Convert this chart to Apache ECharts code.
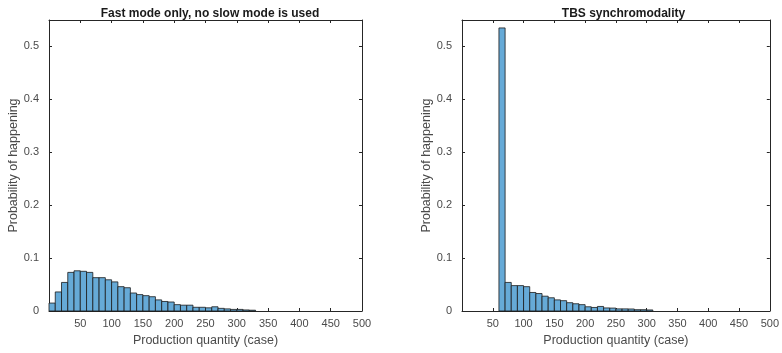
<!DOCTYPE html>
<html>
<head>
<meta charset="utf-8">
<script src="https://cdn.jsdelivr.net/npm/echarts@6/dist/echarts.min.js"></script>
<style>
  html, body { margin: 0; padding: 0; background: #fff; }
  #chart { width: 782px; height: 353px; }
</style>
</head>
<body>
<div id="chart"></div>
<script>
// Histogram bin width (cases)
const binWidth = 10;

// Fast mode only: bins start at 0
const fastBinStarts = [0, 10, 20, 30, 40, 50, 60, 70, 80, 90, 100, 110, 120, 130, 140, 150, 160,
  170, 180, 190, 200, 210, 220, 230, 240, 250, 260, 270, 280, 290, 300, 310, 320];
const fastProb = [0.015, 0.036, 0.054, 0.073, 0.076, 0.075, 0.073, 0.063, 0.063, 0.059, 0.055,
  0.046, 0.044, 0.034, 0.031, 0.029, 0.027, 0.021, 0.018, 0.017, 0.012, 0.011, 0.011, 0.007,
  0.007, 0.006, 0.008, 0.005, 0.004, 0.003, 0.003, 0.002, 0.0015];

// TBS synchromodality: bins start at 60
const tbsBinStarts = [60, 70, 80, 90, 100, 110, 120, 130, 140, 150, 160, 170, 180, 190, 200,
  210, 220, 230, 240, 250, 260, 270, 280, 290, 300];
const tbsProb = [0.535, 0.054, 0.048, 0.048, 0.046, 0.035, 0.033, 0.028, 0.025, 0.021, 0.0195,
  0.0157, 0.0137, 0.012, 0.008, 0.0067, 0.0086, 0.0058, 0.0055, 0.004, 0.004, 0.0038, 0.0025,
  0.0025, 0.002];

const xTicks = [50, 100, 150, 200, 250, 300, 350, 400, 450, 500];
const yTicks = [0, 0.1, 0.2, 0.3, 0.4, 0.5];

const titles = ['Fast mode only, no slow mode is used', 'TBS synchromodality'];
const xName = 'Production quantity (case)';
const yName = 'Probability of happening';

const FONT = 'Liberation Sans, Arial, Helvetica, sans-serif';
const AXIS_COLOR = '#262626';
const LABEL_COLOR = '#4a4a4a';
const FACE = '#66aad7';
const EDGE = '#1a1a1a';

const grids = [
  { left: 49, right: 420, top: 20, bottom: 42 },
  { left: 462, right: 7, top: 20, bottom: 42 }
];

function histData(starts, vals) {
  return starts.map((s, i) => [s, s + binWidth, vals[i]]);
}

function renderBar(params, api) {
  const p0 = api.coord([api.value(0), api.value(2)]);
  const p1 = api.coord([api.value(1), 0]);
  return {
    type: 'rect',
    shape: { x: p0[0], y: p0[1], width: p1[0] - p0[0], height: p1[1] - p0[1] },
    style: { fill: FACE, stroke: EDGE, lineWidth: 0.8 }
  };
}

const xAxes = [];
const yAxes = [];
grids.forEach((g, i) => {
  // bottom axis with labels
  xAxes.push({
    type: 'value', gridIndex: i, min: 0, max: 500, interval: 50,
    name: xName, nameLocation: 'middle', nameGap: 22,
    nameTextStyle: { fontFamily: FONT, fontSize: 12.5, color: LABEL_COLOR },
    axisLine: { show: true, lineStyle: { color: AXIS_COLOR, width: 1 } },
    axisTick: { show: true, inside: true, length: 3, lineStyle: { color: AXIS_COLOR } },
    axisLabel: {
      fontFamily: FONT, fontSize: 11, color: LABEL_COLOR, margin: 7,
      formatter: v => (xTicks.indexOf(v) >= 0 ? String(v) : '')
    },
    splitLine: { show: false }
  });
  // top axis: box edge with inward ticks
  xAxes.push({
    type: 'value', gridIndex: i, position: 'top', min: 0, max: 500, interval: 50,
    axisLine: { show: true, onZero: false, lineStyle: { color: AXIS_COLOR, width: 1 } },
    axisTick: { show: true, inside: true, length: 3, lineStyle: { color: AXIS_COLOR } },
    axisLabel: { show: false }, splitLine: { show: false }
  });
  yAxes.push({
    type: 'value', gridIndex: i, min: 0, max: 0.55, interval: 0.1,
    name: yName, nameLocation: 'middle', nameGap: 25,
    nameTextStyle: { fontFamily: FONT, fontSize: 12.5, color: LABEL_COLOR },
    axisLine: { show: true, lineStyle: { color: AXIS_COLOR, width: 1 } },
    axisTick: { show: true, inside: true, length: 3, lineStyle: { color: AXIS_COLOR } },
    axisLabel: {
      fontFamily: FONT, fontSize: 11, color: LABEL_COLOR, margin: 10,
      formatter: v => {
        const t = yTicks.find(y => Math.abs(y - v) < 1e-9);
        return t === undefined ? '' : String(t);
      }
    },
    splitLine: { show: false }
  });
  yAxes.push({
    type: 'value', gridIndex: i, position: 'right', min: 0, max: 0.55, interval: 0.1,
    axisLine: { show: true, onZero: false, lineStyle: { color: AXIS_COLOR, width: 1 } },
    axisTick: { show: true, inside: true, length: 3, lineStyle: { color: AXIS_COLOR } },
    axisLabel: { show: false }, splitLine: { show: false }
  });
});

const chart = echarts.init(document.getElementById('chart'), null, { renderer: 'canvas' });
chart.setOption({
  animation: false,
  backgroundColor: '#ffffff',
  title: titles.map((t, i) => ({
    text: t,
    left: i === 0 ? 205 : 618.5,
    textAlign: 'center',
    top: 3,
    textStyle: { fontFamily: FONT, fontSize: 12, fontWeight: 'bold', color: '#1a1a1a' }
  })),
  grid: grids,
  xAxis: xAxes,
  yAxis: yAxes,
  series: [
    {
      type: 'custom', xAxisIndex: 0, yAxisIndex: 0,
      renderItem: renderBar, encode: { x: [0, 1], y: 2 },
      data: histData(fastBinStarts, fastProb)
    },
    {
      type: 'custom', xAxisIndex: 2, yAxisIndex: 2,
      renderItem: renderBar, encode: { x: [0, 1], y: 2 },
      data: histData(tbsBinStarts, tbsProb)
    }
  ]
});
</script>
</body>
</html>
